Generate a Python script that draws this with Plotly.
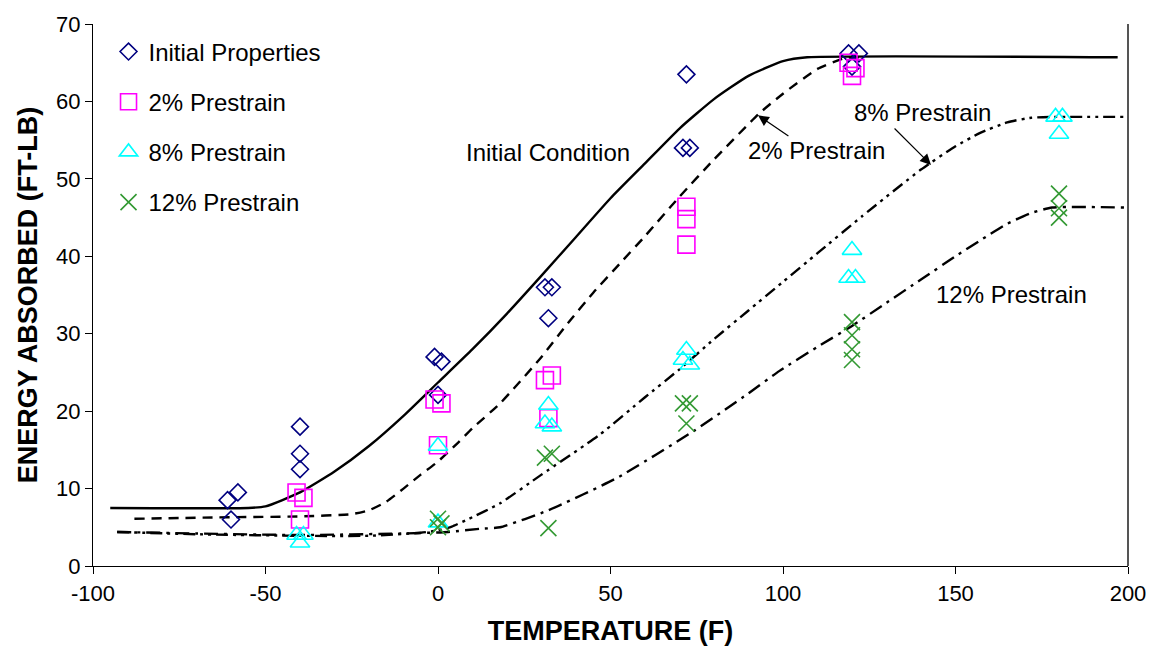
import plotly.graph_objects as go

# ---- measured data points ----
init_T = [-61, -58, -60, -40, -40, -40, -1, 1, 0, 31, 33, 32, 72, 71, 73, 119, 122, 120]
init_E = [8.5, 9.5, 6.0, 18.0, 14.5, 12.5, 27.0, 26.4, 22.1, 36.0, 36.0, 32.0, 63.5, 54.0, 54.0, 66.2, 66.2, 64.5]

p2_T = [-41, -39, -40, -1, 1, 0, 31, 33, 32, 72, 72, 72, 119, 121, 120]
p2_E = [9.5, 8.8, 6.0, 21.5, 21.0, 15.6, 24.0, 24.6, 19.1, 46.4, 44.8, 41.5, 65.0, 64.3, 63.3]

p8_T = [-41, -39, -40, 0, 0, 32, 31, 33, 72, 71, 73, 120, 119, 121, 179, 181, 180]
p8_E = [4.0, 4.0, 3.0, 15.5, 5.6, 20.8, 18.4, 18.0, 27.9, 26.6, 26.0, 40.8, 37.2, 37.2, 58.0, 58.0, 55.8]

p12_T = [0, 1, 0, 31, 33, 32, 71, 73, 72, 120, 120, 120, 120, 180, 180, 180]
p12_E = [6.1, 5.5, 5.0, 14.0, 14.5, 4.9, 21.0, 21.0, 18.4, 31.5, 29.8, 28.0, 26.6, 48.1, 46.2, 45.0]

# ---- fitted curves ----
c0_T = [-95, -55, -50, -40, -30, -20, -10, 0, 10, 20, 30, 40, 50, 60, 70, 80, 90, 100, 107, 197]
c0_E = [7.5, 7.5, 7.7, 9.5, 12.2, 15.5, 19.4, 23.7, 28.0, 32.6, 37.5, 42.5, 47.5, 52.0, 56.5, 60.3, 63.3, 65.2, 65.7, 65.7]

c2_T = [-88, -60, -40, -25, -20, -15, -10, -5, 0, 6, 10, 18, 30, 37, 45, 53, 60, 70, 80, 93, 100, 110, 118, 122]
c2_E = [6.1, 6.3, 6.4, 6.7, 7.2, 8.3, 10.0, 11.8, 13.5, 16.0, 17.8, 21.0, 27.0, 31.0, 35.3, 39.2, 42.6, 47.7, 52.5, 58.4, 61.0, 64.2, 65.6, 65.7]

c8_T = [-93, -70, -40, -20, -5, 0, 4, 9, 18, 30, 47, 60, 70, 80, 90, 100, 110, 123, 140, 150, 157, 165, 172, 178, 199]
c8_E = [4.4, 4.1, 3.9, 3.9, 4.3, 4.6, 5.1, 6.1, 8.1, 11.8, 17.0, 21.8, 25.4, 29.3, 33.0, 36.7, 40.4, 45.2, 51.2, 54.2, 55.9, 57.3, 57.9, 58.0, 58.0]

c12_T = [-93, -70, -40, -10, 3, 12, 18, 32, 52, 74, 90, 99, 110, 120, 130, 140, 150, 157, 165, 172, 178, 199]
c12_E = [4.4, 4.2, 4.0, 4.2, 4.4, 4.8, 5.0, 7.2, 11.4, 17.4, 22.3, 25.2, 28.3, 31.0, 34.0, 37.0, 40.0, 42.0, 44.2, 45.6, 46.3, 46.3]

x_ticks = [-100, -50, 0, 50, 100, 150, 200]
y_ticks = [0, 10, 20, 30, 40, 50, 60, 70]

FONT = "Liberation Sans, Arial, sans-serif"

fig = go.Figure()

# curves
curve_styles = [
    (c0_T, c0_E, "solid"),
    (c2_T, c2_E, "10px,7px"),
    (c8_T, c8_E, "12px,5px,3px,5px,3px,5px"),
    (c12_T, c12_E, "14px,6px,3px,6px"),
]
for t, e, dash in curve_styles:
    fig.add_trace(go.Scatter(x=t, y=e, mode="lines", showlegend=False, hoverinfo="skip",
                             line=dict(color="black", width=2.4, dash=dash, shape="spline", smoothing=0.5)))

# data series
series = [
    ("Initial Properties", init_T, init_E, "diamond-open", "#000080", 13),
    ("2% Prestrain", p2_T, p2_E, "square-open", "#FF00FF", 17),
    ("8% Prestrain", p8_T, p8_E, "triangle-up-open", "#00FFFF", 17),
    ("12% Prestrain", p12_T, p12_E, "x-thin-open", "#339933", 16),
]
for i, (name, t, e, sym, col, sz) in enumerate(series):
    fig.add_trace(go.Scatter(x=t, y=e, mode="markers", name=name, legendgroup="g%d" % i,
                             marker=dict(symbol=sym, size=sz, color=col,
                                         line=dict(color=col, width=1.6))))

ann_font = dict(family=FONT, size=24, color="black")
annotations = [
    dict(x=31.9, y=53.4, text="Initial Condition", showarrow=False, font=ann_font),
    dict(x=109.6, y=53.6, text="2% Prestrain", showarrow=False, font=ann_font),
    dict(x=140.3, y=58.6, text="8% Prestrain", showarrow=False, font=ann_font),
    dict(x=166.1, y=35.1, text="12% Prestrain", showarrow=False, font=ann_font),
    dict(x=92.75, y=58.2, ax=102.0, ay=55.4, axref="x", ayref="y", text="", showarrow=True,
         arrowhead=2, arrowsize=1.8, arrowwidth=1.2, arrowcolor="black"),
    dict(x=142.9, y=51.8, ax=131.9, ay=56.7, axref="x", ayref="y", text="", showarrow=True,
         arrowhead=2, arrowsize=1.8, arrowwidth=1.2, arrowcolor="black"),
]

fig.update_layout(
    width=1160, height=658,
    margin=dict(l=93, r=32, t=19, b=92),
    paper_bgcolor="white", plot_bgcolor="white",
    font=dict(family=FONT, size=22, color="black"),
    annotations=annotations,
    legend=dict(x=0.015, y=0.99, xanchor="left", yanchor="top", font=dict(size=24),
                traceorder="grouped", tracegroupgap=16, itemwidth=30, bgcolor="rgba(0,0,0,0)"),
    shapes=[dict(type="line", xref="x domain", yref="y domain", x0=1, x1=1, y0=0, y1=1,
                 line=dict(color="#555555", width=2))],
)
fig.update_xaxes(range=[-100, 200], tickvals=x_ticks, ticktext=[str(v) for v in x_ticks],
                 showline=True, linecolor="black", linewidth=1.3, ticks="outside", ticklen=7,
                 tickcolor="black", showgrid=False, zeroline=False, tickfont=dict(size=22),
                 title=dict(text="<b>TEMPERATURE (F)</b>", font=dict(size=27), standoff=16))
fig.update_yaxes(range=[0, 70], tickvals=y_ticks, ticktext=[str(v) for v in y_ticks],
                 showline=True, linecolor="black", linewidth=1.3, ticks="outside", ticklen=7,
                 tickcolor="black", showgrid=False, zeroline=False, tickfont=dict(size=22),
                 title=dict(text="<b>ENERGY ABSORBED (FT-LB)</b>", font=dict(size=27), standoff=10))

fig.write_html("out.html")
